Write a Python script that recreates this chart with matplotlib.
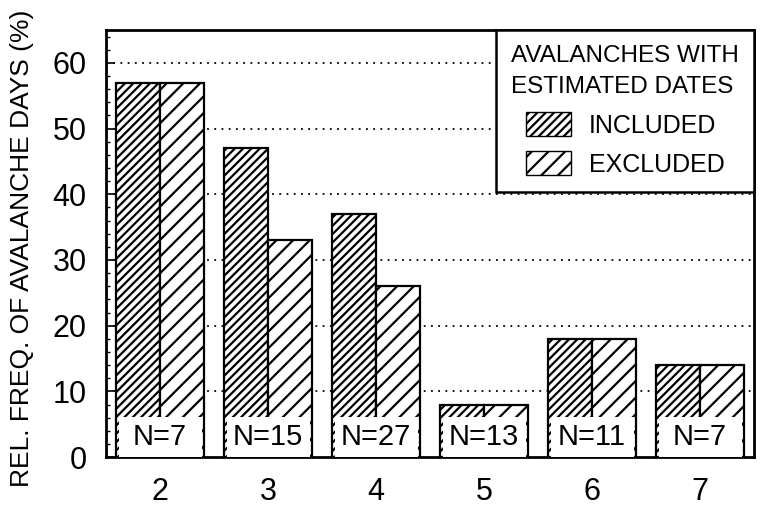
import numpy as np
import matplotlib.pyplot as plt
from matplotlib.patches import Patch, Rectangle
from matplotlib.ticker import MultipleLocator

categories = [2, 3, 4, 5, 6, 7]
included = [57, 47, 37, 8, 18, 14]
excluded = [57, 33, 26, 8, 18, 14]
n_labels = ['N=7', 'N=15', 'N=27', 'N=13', 'N=11', 'N=7']

plt.rcParams['font.family'] = ['Liberation Sans', 'DejaVu Sans']
plt.rcParams['hatch.linewidth'] = 1.6

fig = plt.figure(figsize=(7.64, 5.09), dpi=100)
ax = fig.add_axes([0.139, 0.102, 0.848, 0.839])

x = np.array(categories, dtype=float)
w = 0.41
ax.bar(x - w / 2, included, w, color='white', edgecolor='black', hatch='////',
       linewidth=1.6, zorder=2)
ax.bar(x + w / 2, excluded, w, color='white', edgecolor='black', hatch='//',
       linewidth=1.6, zorder=2)

# white label boxes at the foot of each pair
for xi, lab in zip(x, n_labels):
    ax.add_patch(Rectangle((xi - 0.385, 0), 0.77, 6.1, facecolor='white',
                           edgecolor='none', zorder=3))
    ax.text(xi, 3.0, lab, ha='center', va='center', fontsize=21, zorder=4)

for g in range(10, 61, 10):
    ax.axhline(g, color='black', linestyle=(0, (1, 3)), linewidth=1.3, zorder=1)

ax.set_xlim(1.5, 7.5)
ax.set_ylim(0, 65)
ax.set_xticks(categories)
ax.set_xticklabels([str(c) for c in categories], fontsize=22)
ax.yaxis.set_major_locator(MultipleLocator(10))
ax.yaxis.set_minor_locator(MultipleLocator(2))
ax.tick_params(axis='y', which='major', direction='in', length=6, width=1.2,
               labelsize=22, pad=14)
ax.tick_params(axis='y', which='minor', direction='in', length=3, width=1)
ax.tick_params(axis='x', length=0, pad=14)
for s in ax.spines.values():
    s.set_linewidth(2)

ax.set_ylabel('REL. FREQ. OF AVALANCHE DAYS (%)', fontsize=19)
ax.yaxis.set_label_coords(-0.112, 0.49)

handles = [Patch(facecolor='white', edgecolor='black', hatch='////', label='INCLUDED'),
           Patch(facecolor='white', edgecolor='black', hatch='//', label='EXCLUDED')]
leg = ax.legend(handles=handles, title='AVALANCHES WITH\nESTIMATED DATES',
                loc='upper right', borderaxespad=0, fancybox=False,
                framealpha=1, edgecolor='black', fontsize=18, title_fontsize=17.5,
                handlelength=1.8, handleheight=1.1, handletextpad=0.7,
                borderpad=0.6, labelspacing=0.55)
leg.get_title().set_linespacing(1.55)
leg.get_frame().set_linewidth(1.8)
leg.set_zorder(5)

plt.savefig('out.png', dpi=100)
